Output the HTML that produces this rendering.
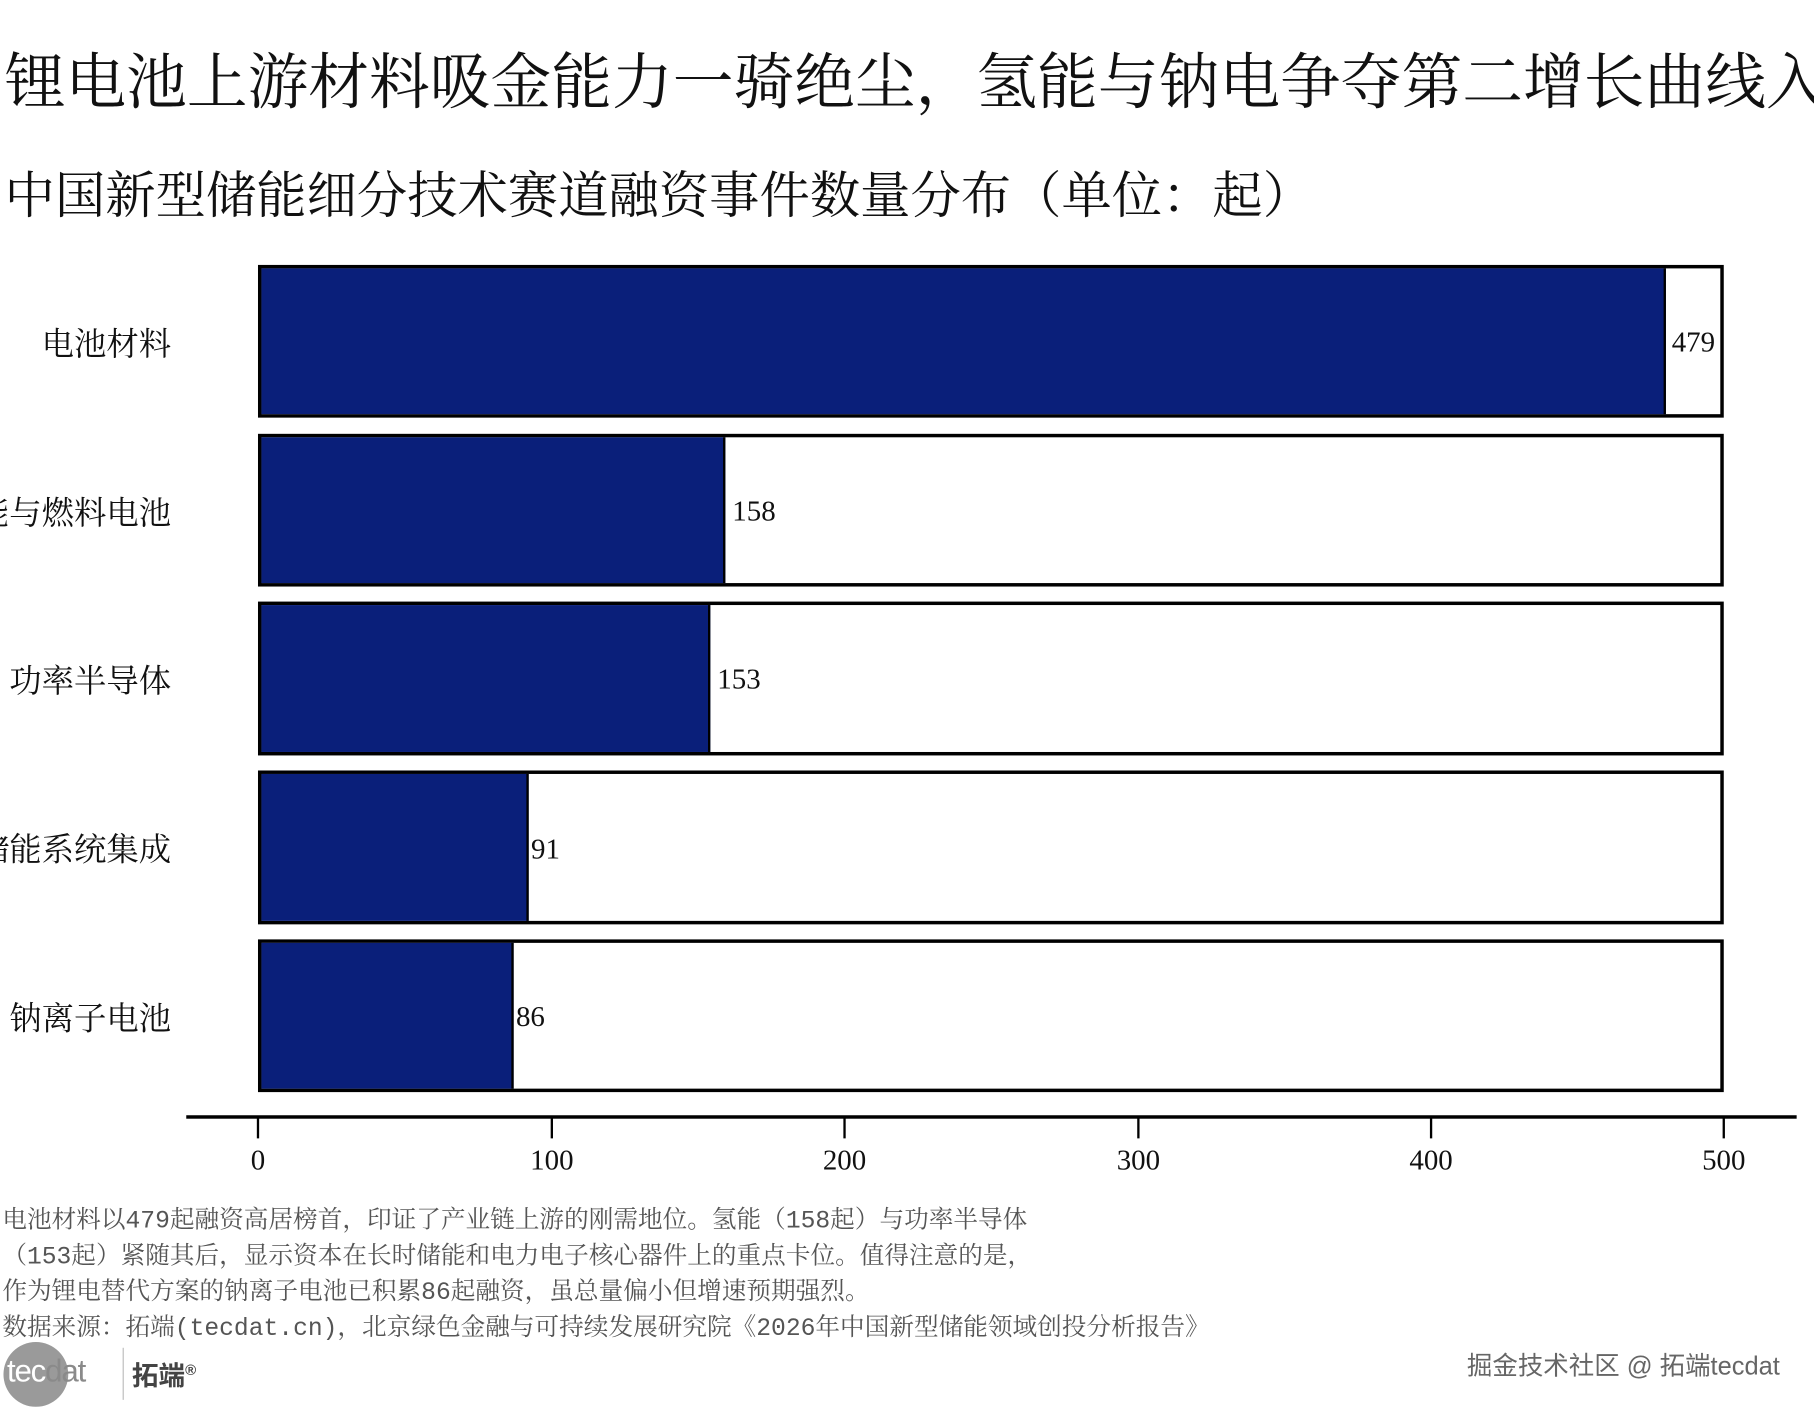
<!DOCTYPE html>
<html><head><meta charset="utf-8"><style>
html,body{margin:0;padding:0;background:#fff;}
body{width:1814px;height:1411px;overflow:hidden;position:relative;}
#w{position:absolute;left:0;top:0;width:1568px;height:1220px;transform:scale(1.15689);transform-origin:0 0;font-family:"Liberation Serif","Noto Serif CJK SC",serif;color:#111;}
.t{position:absolute;white-space:nowrap;}
.bg{position:absolute;left:223px;width:1267px;border:3px solid #000;box-sizing:border-box;background:#fff;}
.bar{position:absolute;left:0;top:0;bottom:0;background:#0a1f7a;border-right:2px solid #000;}
.lab{position:absolute;right:1420px;font-size:28px;white-space:nowrap;transform:translateY(-50%);}
.val{position:absolute;font-size:25px;transform:translateY(-50%);}
.tick{position:absolute;top:966px;width:2px;height:18px;background:#000;}
.tl{position:absolute;top:990px;font-size:25px;transform:translateX(-50%);}
.fn{position:absolute;left:2px;font-size:21.3px;color:#555;white-space:nowrap;font-family:"Liberation Mono","Noto Serif CJK SC",serif;}
</style></head><body><div id="w">
<div class="t" style="left:4px;top:30px;font-size:52.5px;">锂电池上游材料吸金能力一骑绝尘，氢能与钠电争夺第二增长曲线入</div>
<div class="t" style="left:4px;top:135px;font-size:43.5px;">中国新型储能细分技术赛道融资事件数量分布（单位：起）</div>

<div class="bg" style="top:229px;height:132px;"><div class="bar" style="width:1212px;"></div></div>
<div class="bg" style="top:375px;height:132px;"><div class="bar" style="width:399px;"></div></div>
<div class="bg" style="top:520px;height:133px;"><div class="bar" style="width:386px;"></div></div>
<div class="bg" style="top:666px;height:133px;"><div class="bar" style="width:229px;"></div></div>
<div class="bg" style="top:812px;height:132px;"><div class="bar" style="width:216px;"></div></div>

<div class="lab" style="top:296px;">电池材料</div>
<div class="lab" style="top:442px;">氢能与燃料电池</div>
<div class="lab" style="top:587px;">功率半导体</div>
<div class="lab" style="top:733px;">储能系统集成</div>
<div class="lab" style="top:879px;">钠离子电池</div>

<div class="val" style="left:1445px;top:297px;">479</div>
<div class="val" style="left:633px;top:443px;">158</div>
<div class="val" style="left:620px;top:588px;">153</div>
<div class="val" style="left:459px;top:735px;">91</div>
<div class="val" style="left:446px;top:880px;">86</div>

<div style="position:absolute;left:161px;top:964px;width:1392px;height:3px;background:#000;"></div>
<div class="tick" style="left:222px"></div><div class="tick" style="left:476px"></div><div class="tick" style="left:729px"></div><div class="tick" style="left:983px"></div><div class="tick" style="left:1236px"></div><div class="tick" style="left:1489px"></div>
<div class="tl" style="left:223px">0</div><div class="tl" style="left:477px">100</div><div class="tl" style="left:730px">200</div><div class="tl" style="left:984px">300</div><div class="tl" style="left:1237px">400</div><div class="tl" style="left:1490px">500</div>

<div class="fn" style="top:1037px;">电池材料以479起融资高居榜首，印证了产业链上游的刚需地位。氢能（158起）与功率半导体</div>
<div class="fn" style="top:1068px;">（153起）紧随其后，显示资本在长时储能和电力电子核心器件上的重点卡位。值得注意的是，</div>
<div class="fn" style="top:1099px;">作为锂电替代方案的钠离子电池已积累86起融资，虽总量偏小但增速预期强烈。</div>
<div class="fn" style="top:1130px;">数据来源：拓端(tecdat.cn)，北京绿色金融与可持续发展研究院《2026年中国新型储能领域创投分析报告》</div>

<div style="position:absolute;left:3px;top:1160px;width:56px;height:56px;border-radius:50%;background:#9a9a9a;"></div>
<div class="t" style="left:6px;top:1170px;font-family:'Liberation Sans',sans-serif;font-size:27px;letter-spacing:-1px;color:#fff;">tec<span style="color:#8a8a8a">dat</span></div>
<div style="position:absolute;left:106px;top:1165px;width:1px;height:45px;background:#bbb;"></div>
<div class="t" style="left:114px;top:1170px;font-family:'Liberation Sans','Noto Sans CJK SC',sans-serif;font-weight:bold;font-size:23px;color:#444;">拓端<sup style="font-size:13px">®</sup></div>
<div class="t" style="left:1268px;top:1163px;font-family:'Liberation Sans','Noto Sans CJK SC',sans-serif;font-size:22px;color:#666;">掘金技术社区 @ 拓端tecdat</div>
</div></body></html>
